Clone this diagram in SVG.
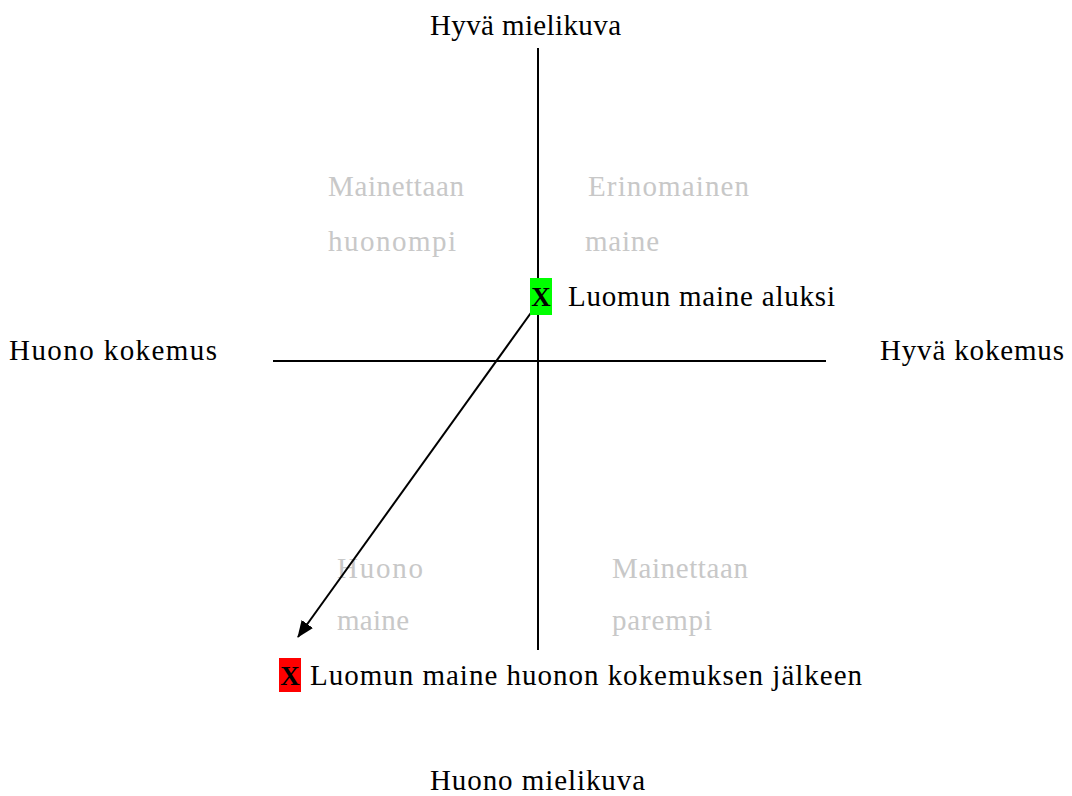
<svg xmlns="http://www.w3.org/2000/svg" width="1072" height="796" viewBox="0 0 1072 796">
<style>
text{font-family:"Liberation Serif","Times New Roman",serif;font-size:29px;fill:#000}
.q{fill:#c8c8c8}
.x{font-weight:bold;text-anchor:middle;font-size:27px}
.ax{stroke:#000;stroke-width:2;fill:none}
</style>
<defs>
<marker id="ah" markerWidth="17" markerHeight="14" refX="16" refY="7" orient="auto" markerUnits="userSpaceOnUse" viewBox="0 0 17 14">
<path d="M0,0 L17,7 L0,14 z" fill="#000"/>
</marker>
</defs>
<rect width="1072" height="796" fill="#fff"/>
<g id="axes">
<line class="ax" x1="538" y1="48" x2="538" y2="650"/>
<line class="ax" x1="273" y1="361" x2="826" y2="361"/>
</g>
<g id="axis-labels">
<text x="430" y="35" textLength="191">Hyvä mielikuva</text>
<text x="430" y="790" textLength="215">Huono mielikuva</text>
<text x="9" y="360" textLength="208">Huono kokemus</text>
<text x="880" y="360" textLength="184">Hyvä kokemus</text>
</g>
<g id="quadrants">
<text class="q" x="328" y="196" textLength="136">Mainettaan</text>
<text class="q" x="328" y="251" textLength="128">huonompi</text>
<text class="q" x="588" y="196" textLength="161">Erinomainen</text>
<text class="q" x="585" y="251" textLength="74">maine</text>
<text class="q" x="337" y="578" textLength="86">Huono</text>
<text class="q" x="337" y="630" textLength="72">maine</text>
<text class="q" x="612" y="578" textLength="136">Mainettaan</text>
<text class="q" x="612" y="630" textLength="100">parempi</text>
</g>
<g id="connectors">
<line x1="538" y1="303" x2="298" y2="637" stroke="#000" stroke-width="2" marker-end="url(#ah)"/>
</g>
<g id="start">
<rect x="530" y="278" width="22" height="37" fill="#00ff00"/>
<text class="x" x="541" y="306">X</text>
<text x="568" y="306" textLength="267">Luomun maine aluksi</text>
</g>
<g id="end">
<rect x="279" y="658" width="22" height="34" fill="#ff0000"/>
<text class="x" x="290" y="685">X</text>
<text x="310" y="685" textLength="552">Luomun maine huonon kokemuksen jälkeen</text>
</g>
</svg>
